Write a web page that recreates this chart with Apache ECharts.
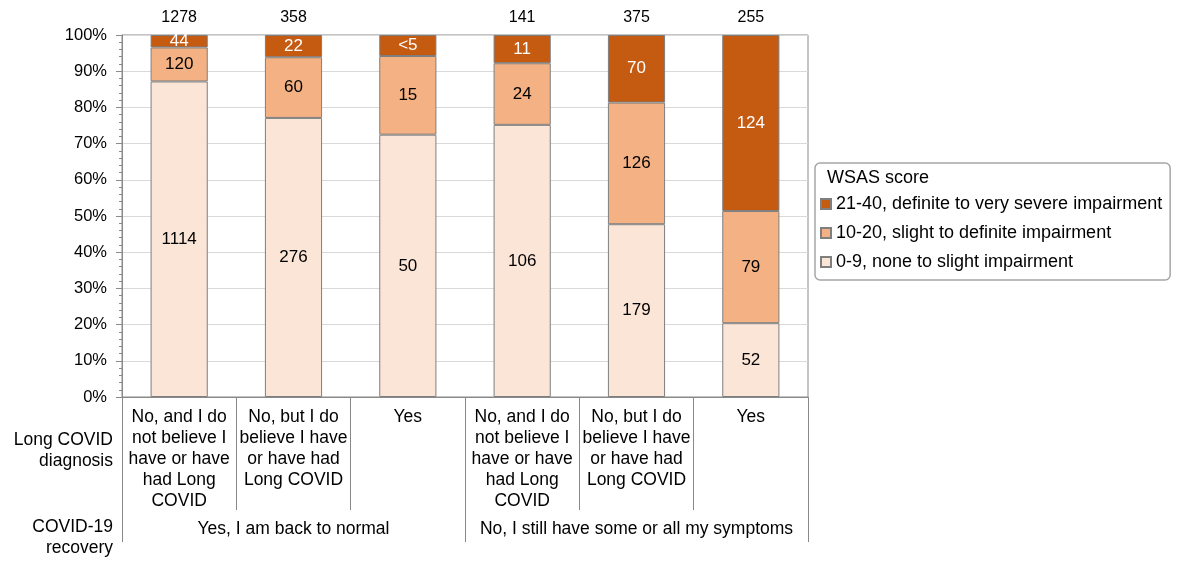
<!DOCTYPE html>
<html>
<head>
<meta charset="utf-8">
<script src="https://cdn.jsdelivr.net/npm/echarts@6/dist/echarts.min.js"></script>
<style>
  html, body { margin: 0; padding: 0; background: #fff; }
  #chart { width: 1177px; height: 563px; }
</style>
</head>
<body>
<div id="chart"></div>
<script>
// diagnosis categories (inner level) and recovery groups (outer level)
const diagnosis = [
  'No, and I do\nnot believe I\nhave or have\nhad Long\nCOVID',
  'No, but I do\nbelieve I have\nor have had\nLong COVID',
  'Yes',
  'No, and I do\nnot believe I\nhave or have\nhad Long\nCOVID',
  'No, but I do\nbelieve I have\nor have had\nLong COVID',
  'Yes'
];
const recovery = ['Yes, I am back to normal', 'No, I still have some or all my symptoms'];
const totalLabels = ['1278', '358', '', '141', '375', '255'];

// counts per WSAS band
const low = [1114, 276, 50, 106, 179, 52];
const mid = [120, 60, 15, 24, 126, 79];
const high = [44, 22, 4, 11, 70, 124];
const highText = ['44', '22', '<5', '11', '70', '124'];

const seriesNames = [
  '0-9, none to slight impairment',
  '10-20, slight to definite impairment',
  '21-40, definite to very severe impairment'
];
const yTicks = [0, 10, 20, 30, 40, 50, 60, 70, 80, 90, 100];

const FONT = 'Liberation Sans, Arial, sans-serif';
const GREY = '#898989';

function pct(arr) {
  return arr.map((v, i) => v / (low[i] + mid[i] + high[i]) * 100);
}

function barSeries(name, counts, color, textColor, texts) {
  return {
    name: name,
    type: 'bar',
    stack: 'total',
    barWidth: '50%',
    data: pct(counts),
    itemStyle: { color: color, borderColor: '#7f7f7f', borderWidth: 1 },
    label: {
      show: true,
      position: 'inside',
      fontFamily: FONT,
      fontSize: 17,
      color: textColor,
      formatter: p => texts ? texts[p.dataIndex] : String(counts[p.dataIndex])
    }
  };
}

const chart = echarts.init(document.getElementById('chart'));
chart.setOption({
  animation: false,
  textStyle: { fontFamily: FONT },
  title: {
    text: 'WSAS score',
    left: 827,
    top: 169,
    padding: 0,
    textStyle: { fontFamily: FONT, fontSize: 18, fontWeight: 'normal', color: '#000' }
  },
  legend: {
    data: [seriesNames[2], seriesNames[1], seriesNames[0]],
    orient: 'vertical',
    left: 815,
    top: 163,
    padding: [32, 8, 9, 5],
    icon: 'rect',
    itemWidth: 10,
    itemHeight: 10,
    itemGap: 11,
    itemTextGap: 6,
    borderColor: '#a6a6a6',
    borderWidth: 1.5,
    borderRadius: 5,
    textStyle: { fontFamily: FONT, fontSize: 18, color: '#000' }
  },
  grid: {
    left: 122,
    right: 369,
    top: 35,
    bottom: 166,
    outerBoundsMode: 'none',
    containLabel: false,
    show: true,
    borderColor: GREY,
    borderWidth: 1
  },
  xAxis: [
    {
      type: 'category',
      position: 'bottom',
      data: diagnosis,
      name: 'Long COVID\ndiagnosis',
      nameLocation: 'start',
      nameGap: 9,
      nameMoveOverlap: false,
      nameTextStyle: {
        fontFamily: FONT, fontSize: 17.5, color: '#000', align: 'right',
        verticalAlign: 'top', lineHeight: 21, padding: [33, 0, 0, 0]
      },
      axisLine: { lineStyle: { color: GREY } },
      axisTick: { show: true, interval: 0, length: 113, lineStyle: { color: GREY } },
      axisLabel: {
        interval: 0, margin: 10, fontFamily: FONT, fontSize: 17.5,
        lineHeight: 21, color: '#000', verticalAlign: 'top'
      }
    },
    {
      type: 'category',
      position: 'bottom',
      offset: 113,
      data: recovery,
      name: 'COVID-19\nrecovery',
      nameLocation: 'start',
      nameGap: 9,
      nameMoveOverlap: false,
      nameTextStyle: {
        fontFamily: FONT, fontSize: 17.5, color: '#000', align: 'right',
        verticalAlign: 'top', lineHeight: 21, padding: [7, 0, 0, 0]
      },
      axisLine: { show: false },
      axisTick: { show: true, interval: 0, length: 32, lineStyle: { color: GREY } },
      axisLabel: { interval: 0, margin: 10, fontFamily: FONT, fontSize: 17.5, color: '#000', verticalAlign: 'top' }
    },
    {
      type: 'category',
      position: 'top',
      data: totalLabels,
      axisLine: { show: false },
      axisTick: { show: false },
      axisLabel: { interval: 0, margin: 9, fontFamily: FONT, fontSize: 16, color: '#000' }
    }
  ],
  yAxis: {
    type: 'value',
    min: yTicks[0],
    max: yTicks[yTicks.length - 1],
    interval: yTicks[1] - yTicks[0],
    axisLine: { show: true, lineStyle: { color: GREY } },
    axisTick: { show: true, length: 6, lineStyle: { color: GREY } },
    minorTick: { show: true, splitNumber: 5, length: 3, lineStyle: { color: GREY } },
    splitLine: { lineStyle: { color: '#d9d9d9' } },
    axisLabel: { formatter: '{value}%', margin: 15, fontFamily: FONT, fontSize: 16.5, color: '#000' }
  },
  series: [
    barSeries(seriesNames[0], low, '#FBE5D6', '#000'),
    barSeries(seriesNames[1], mid, '#F4B183', '#000'),
    barSeries(seriesNames[2], high, '#C55A11', '#fff', highText)
  ]
});
</script>
</body>
</html>
